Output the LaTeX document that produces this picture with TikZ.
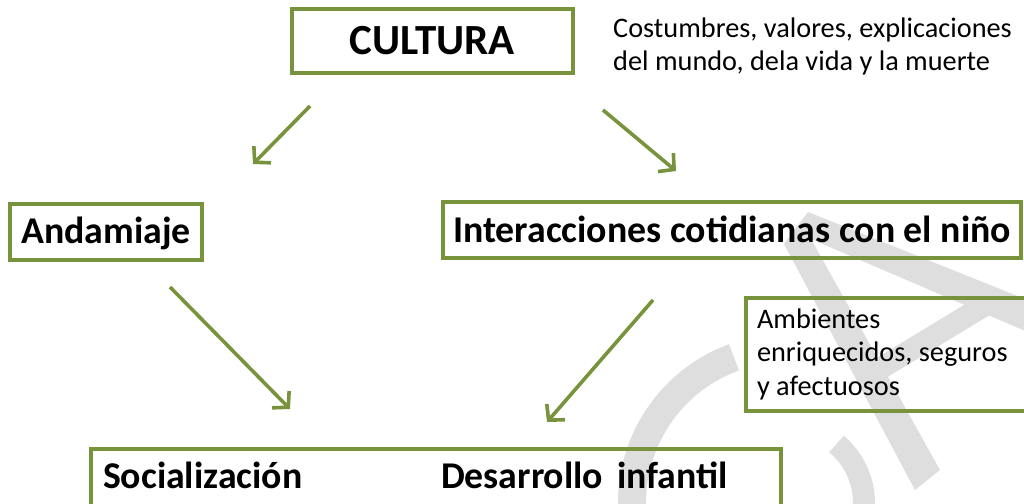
\documentclass[tikz,border=0pt]{standalone}
\usepackage{fontspec}
\setmainfont{Carlito}
\usetikzlibrary{arrows.meta}
\definecolor{oliveg}{HTML}{77933C}
\definecolor{wmgray}{HTML}{DEDEDE}
\begin{document}
\begin{tikzpicture}[x=1pt,y=-1pt,
  box/.style={draw=oliveg, line width=4pt, inner sep=0pt, outer sep=0pt, rectangle},
  bigtext/.style={font=\bfseries\fontsize{37.8}{45}\selectfont},
  smalltext/.style={font=\fontsize{28.3}{33.5}\selectfont},
  arr/.style={draw=oliveg, line width=3.6pt, -{Straight Barb[length=11pt,width=24pt]}},
  wmline/.style={draw=wmgray}
]
\useasboundingbox (0,0) rectangle (1024,503);
\clip (0,0) rectangle (1024,503);
% watermark
\fill[wmgray] (808,212) -- (1030,301) -- (1030,333) -- (811,239) -- (940,470) -- (915,490) -- (784,244) -- cycle;
\draw[wmline, line width=22pt] (868,376) -- (990,302);
\draw[wmline, line width=28pt] (787,503) ++(165:155) arc[start angle=165, end angle=250, radius=155];
\draw[wmline, line width=22pt] (787,503) ++(-50:77) arc[start angle=-50, end angle=10, radius=77];
% boxes
\node[box, minimum width=281.5pt, minimum height=64pt, text height=28pt, text depth=0pt,
  font=\bfseries\fontsize{43}{51}\selectfont] (cultura) at (432.25,41) {CULTURA};
\node[box, bigtext, minimum width=192pt, minimum height=55.5pt, text height=22.5pt, text depth=0pt]
  (andamiaje) at (106,231.75) {Andamiaje};
\node[box, bigtext, minimum width=578pt, minimum height=56pt, text height=25pt, text depth=0pt]
  (interacciones) at (732,229.5) {Interacciones cotidianas con el niño};
\node[box, smalltext, minimum width=294.5pt, minimum height=113pt, text width=271.5pt, align=flush left,
  text height=0pt, text depth=52pt] (ambientes) at (892.75,354)
  {Ambientes\\enriquecidos, seguros\\y afectuosos};
\node[box, bigtext, minimum width=690pt, minimum height=58pt, text width=666pt, align=flush left,
  text height=20pt, text depth=0pt] (social) at (436,478)
  {\makebox[338pt][l]{Socialización}Desarrollo\hspace{14pt}infantil};
\node[smalltext, anchor=base west, align=left, inner sep=0pt] (costumbres) at (613,70.5)
  {Costumbres, valores, explicaciones\\del mundo, dela vida y la muerte};
% arrows
\coordinate (a1s) at (310,106); \coordinate (a1e) at (253,164);
\coordinate (a2s) at (603,110); \coordinate (a2e) at (676,171);
\coordinate (a3s) at (170,287); \coordinate (a3e) at (290,409);
\coordinate (a4s) at (653,300); \coordinate (a4e) at (547,422);
\draw[arr] (a1s) -- (a1e);
\draw[arr] (a2s) -- (a2e);
\draw[arr] (a3s) -- (a3e);
\draw[arr] (a4s) -- (a4e);
\end{tikzpicture}
\end{document}
